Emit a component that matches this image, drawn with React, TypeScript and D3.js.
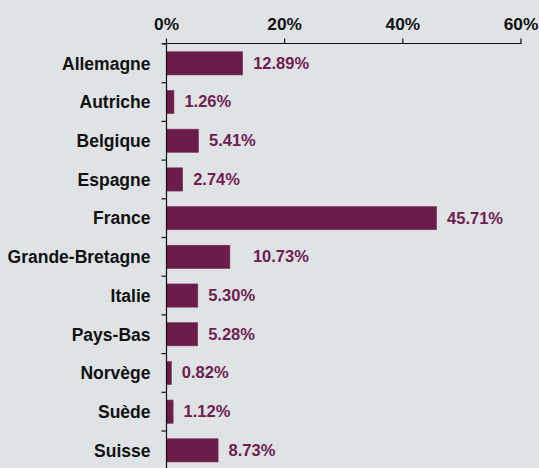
import React from "react";
import * as d3 from "d3";

const categories = ["Allemagne", "Autriche", "Belgique", "Espagne", "France", "Grande-Bretagne", "Italie", "Pays-Bas", "Norvège", "Suède", "Suisse"];
const values = [12.89, 1.26, 5.41, 2.74, 45.71, 10.73, 5.3, 5.28, 0.82, 1.12, 8.73];
const ticks = [0, 20, 40, 60];

const W = 539;
const H = 468;
const x0 = 166.5;
const x1 = 521;
const axisY = 43.5;
const bandTop = 44;
const step = 38.7;
const BAR = "#6a1c4a";
const BG = "#dfe3e6";
const FONT = "'Liberation Sans', Arial, sans-serif";

export default function App() {
  const x = d3.scaleLinear().domain([0, 60]).range([x0, x1]);
  const y = d3
    .scaleBand<string>()
    .domain(categories)
    .range([bandTop, bandTop + step * categories.length])
    .paddingInner(0.4)
    .paddingOuter(0.2);
  const bw = y.bandwidth();
  return (
    <svg width={W} height={H} style={{ position: "absolute", left: 0, top: 0, background: BG }} fontFamily={FONT}>
      <rect x={0} y={0} width={W} height={H} fill={BG} />
      {categories.map((c, i) => (
        <g key={c}>
          <rect x={x(0)} y={y(c)!} width={x(values[i]) - x(0)} height={bw} fill={BAR} stroke="#7d3460" strokeWidth={0.6} />
          <text
            x={x(values[i]) + (c === "Grande-Bretagne" ? 23 : 10.5)}
            y={y(c)! + bw / 2}
            dy="0.33em"
            fontSize={16.5}
            fontWeight="bold"
            fill="#6e2050"
          >
            {values[i].toFixed(2)}%
          </text>
          <text x={150.5} y={y(c)! + bw / 2} dy="0.36em" fontSize={17.5} fontWeight="bold" fill="#111" textAnchor="end">
            {c}
          </text>
        </g>
      ))}
      {/* x axis */}
      <line x1={x(0) - 4} x2={x(60) + 0.5} y1={axisY} y2={axisY} stroke="#111" strokeWidth={1.2} />
      {ticks.map((t) => (
        <g key={t}>
          <line x1={x(t)} x2={x(t)} y1={axisY} y2={axisY - 5} stroke="#111" strokeWidth={1.2} />
          <text x={x(t)} y={30} fontSize={17.3} fontWeight="bold" textAnchor="middle" fill="#111">
            {t}%
          </text>
        </g>
      ))}
      {/* y axis */}
      <line x1={x0} x2={x0} y1={axisY} y2={H} stroke="#111" strokeWidth={1.2} />
      {categories.map((c, i) => (
        <line key={"t" + c} x1={x0 - 5} x2={x0} y1={bandTop + step * i} y2={bandTop + step * i} stroke="#111" strokeWidth={1.2} />
      ))}
    </svg>
  );
}
